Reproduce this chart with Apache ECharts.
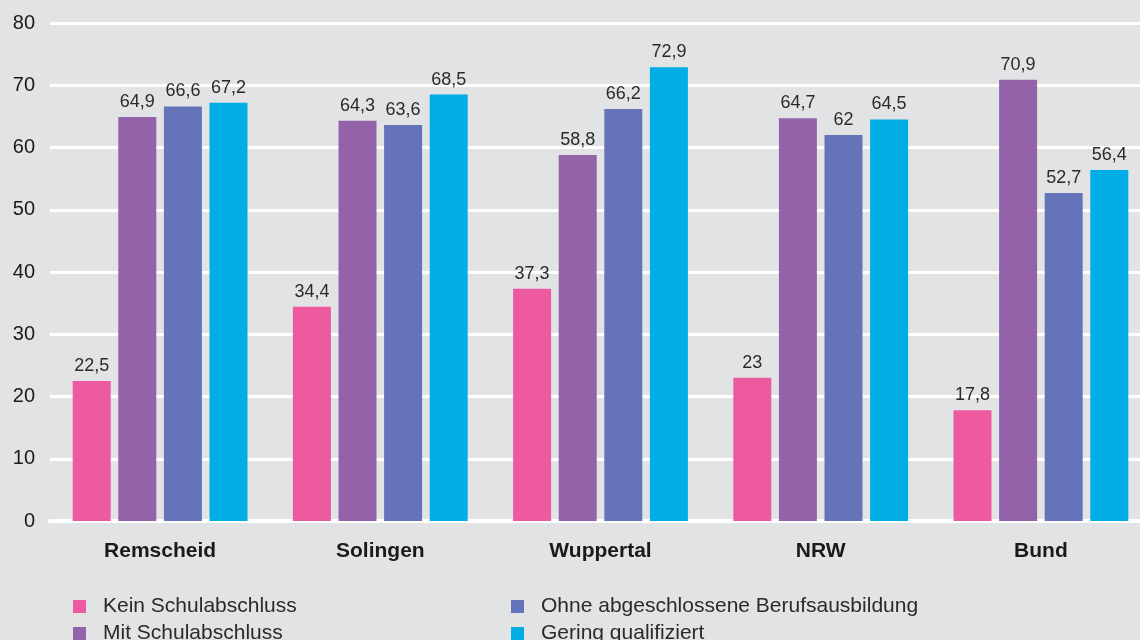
<!DOCTYPE html>
<html>
<head>
<meta charset="utf-8">
<script src="https://cdn.jsdelivr.net/npm/echarts@6/dist/echarts.min.js"></script>
<style>
  html, body { margin: 0; padding: 0; background: #e2e3e5; }
  #chart { width: 1140px; height: 640px; }
</style>
</head>
<body>
<div id="chart"></div>
<script>
// Regionen
const regions = ['Remscheid', 'Solingen', 'Wuppertal', 'NRW', 'Bund'];
const seriesNames = ['Kein Schulabschluss', 'Mit Schulabschluss', 'Ohne abgeschlossene Berufsausbildung', 'Gering qualifiziert'];
const keinSchulabschluss = [22.5, 34.4, 37.3, 23, 17.8];
const mitSchulabschluss = [64.9, 64.3, 58.8, 64.7, 70.9];
const ohneBerufsausbildung = [66.6, 63.6, 66.2, 62, 52.7];
const geringQualifiziert = [67.2, 68.5, 72.9, 64.5, 56.4];
const colors = ['#ee5aa0', '#9362a8', '#6574b8', '#00ade4'];

const FONT = '"Liberation Sans", Arial, sans-serif';

const chart = echarts.init(document.getElementById('chart'));

function makeSeries(name, values, color) {
  return {
    name: name,
    type: 'bar',
    data: values,
    barWidth: 38,
    barGap: '20%',
    itemStyle: { color: color },
    label: {
      show: true,
      position: 'top',
      distance: 6,
      fontFamily: FONT,
      fontSize: 18,
      color: '#2a2a2a',
      formatter: p => String(p.value).replace('.', ',')
    }
  };
}

// eine Legende pro Eintrag, damit die zwei Spalten sicher sitzen
function makeLegend(name, left, top) {
  return {
    left: left,
    top: top,
    itemWidth: 13,
    itemHeight: 13,
    icon: 'rect',
    textStyle: { fontFamily: FONT, fontSize: 21, lineHeight: 20, color: '#2a2a2a', padding: [0, 0, 0, 12] },
    data: [name]
  };
}

const option = {
  backgroundColor: '#e2e3e5',
  animation: false,
  textStyle: { fontFamily: FONT },
  grid: { left: 50, top: 23, width: 1101, height: 498, outerBoundsMode: 'none', containLabel: false },
  xAxis: {
    type: 'category',
    data: regions,
    axisTick: { show: false },
    axisLine: { show: true, lineStyle: { color: '#ffffff', width: 4 } },
    axisLabel: { fontFamily: FONT, fontSize: 21, fontWeight: 'bold', color: '#1a1a1a', margin: 20 }
  },
  yAxis: {
    type: 'value',
    min: 0,
    max: 80,
    interval: 10,
    axisLine: { show: false },
    axisTick: { show: false },
    axisLabel: { fontFamily: FONT, fontSize: 20, color: '#1a1a1a', margin: 15 },
    splitLine: { lineStyle: { color: '#ffffff', width: 3 } }
  },
  legend: [
    makeLegend(seriesNames[0], 68, 591),
    makeLegend(seriesNames[1], 68, 618),
    makeLegend(seriesNames[2], 506, 591),
    makeLegend(seriesNames[3], 506, 618)
  ],
  series: [
    makeSeries(seriesNames[0], keinSchulabschluss, colors[0]),
    makeSeries(seriesNames[1], mitSchulabschluss, colors[1]),
    makeSeries(seriesNames[2], ohneBerufsausbildung, colors[2]),
    makeSeries(seriesNames[3], geringQualifiziert, colors[3])
  ]
};

chart.setOption(option);
</script>
</body>
</html>
